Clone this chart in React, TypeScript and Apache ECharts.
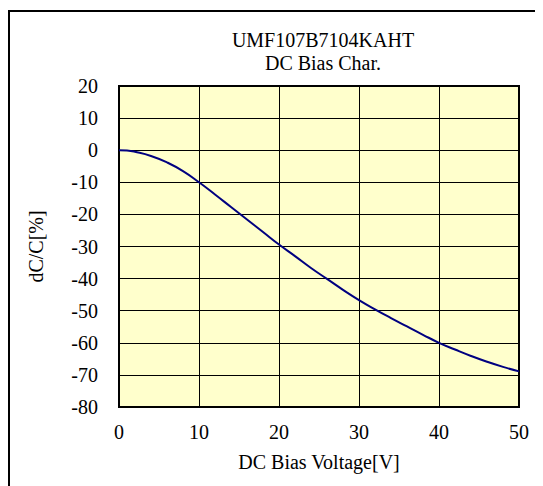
import React, { useEffect, useRef } from "react";
import * as echarts from "echarts";

const titleLines = ["UMF107B7104KAHT", "DC Bias Char."];
const xAxisName = "DC Bias Voltage[V]";
const yAxisName = "dC/C[%]";
const voltages = [0, 1, 2, 4, 6, 8, 10, 12, 14, 16, 18, 20, 22, 24, 26, 28, 30, 32, 34, 36, 38, 40, 42, 44, 46, 48, 50];
const capChange = [0, -0.1, -0.5, -1.8, -3.8, -6.5, -10, -13.8, -17.7, -21.6, -25.5, -29.4, -33, -36.7, -40.1, -43.5, -46.7, -49.6, -52.3, -54.9, -57.5, -60, -62.1, -64.1, -65.9, -67.5, -68.9];

const FONT = "Liberation Serif";
const FS = 20;

export default function App() {
  const ref = useRef<HTMLDivElement>(null);
  useEffect(() => {
    if (!ref.current) return;
    const chart = echarts.init(ref.current, undefined, { renderer: "svg" });
    chart.setOption({
      animation: false,
      textStyle: { fontFamily: FONT },
      title: {
        text: titleLines.join("\n"),
        left: 310,
        top: 15,
        textAlign: "center",
        textStyle: { fontFamily: FONT, fontSize: FS, fontWeight: "normal", color: "#000", lineHeight: 23 },
      },
      graphic: [
        {
          type: "rect",
          shape: { x: 1, y: 3, width: 700, height: 700 },
          style: { fill: "none", stroke: "#000", lineWidth: 2 },
          silent: true,
          z: 100,
        },
      ],
      grid: {
        left: 111,
        right: 24,
        top: 78,
        bottom: 79,
        show: true,
        backgroundColor: "#FFFFCC",
        borderColor: "#000",
        borderWidth: 2,
        z: 0,
      },
      xAxis: {
        type: "value",
        min: 0,
        max: 50,
        interval: 10,
        name: xAxisName,
        nameLocation: "middle",
        nameGap: 45,
        nameTextStyle: { fontFamily: FONT, fontSize: FS, color: "#000" },
        axisLine: { show: false },
        axisTick: { show: false },
        axisLabel: { fontFamily: FONT, fontSize: FS, color: "#000", margin: 15 },
        splitLine: { show: true, lineStyle: { color: "#000", width: 1 } },
      },
      yAxis: {
        type: "value",
        min: -80,
        max: 20,
        interval: 10,
        name: yAxisName,
        nameLocation: "middle",
        nameGap: 73,
        nameRotate: 90,
        nameTextStyle: { fontFamily: FONT, fontSize: FS, color: "#000" },
        axisLine: { show: false },
        axisTick: { show: false },
        axisLabel: { fontFamily: FONT, fontSize: FS, color: "#000", margin: 21 },
        splitLine: { show: true, lineStyle: { color: "#000", width: 1 } },
      },
      series: [
        {
          type: "line",
          data: voltages.map((v, i) => [v, capChange[i]]),
          smooth: true,
          showSymbol: false,
          lineStyle: { color: "#000080", width: 2 },
        },
      ],
    });
    return () => chart.dispose();
  }, []);
  return <div ref={ref} style={{ width: 535, height: 478 }} />;
}
